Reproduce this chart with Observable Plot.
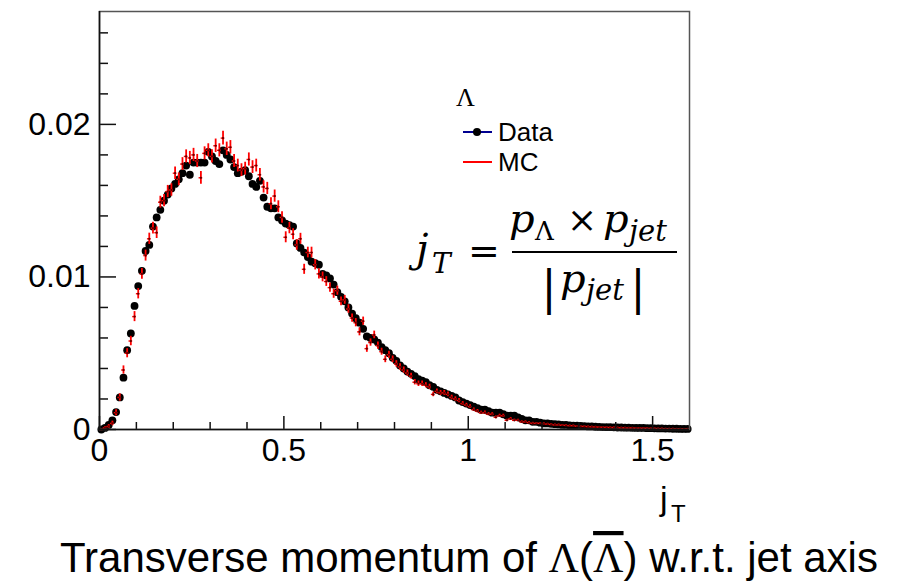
<!DOCTYPE html>
<html><head><meta charset="utf-8">
<script src="https://cdn.jsdelivr.net/npm/d3@7"></script>
<script src="https://cdn.jsdelivr.net/npm/@observablehq/plot@0.6"></script>
<style>body{margin:0;background:#fff;} svg{display:block}</style>
</head><body><div id="chart"></div>
<script>
// ---- data (histogram, bin width 0.01 in jT) ----
const binWidth = 0.01;
const dataValues = [
0.0000, 0.0001, 0.0003, 0.0006, 0.00114, 0.0021, 0.0034, 0.0052, 0.0063, 0.0081,
0.0094, 0.0104, 0.0117, 0.0121, 0.0133, 0.0139, 0.0144, 0.0150, 0.0154, 0.0158,
0.0161, 0.0164, 0.0168, 0.0173, 0.0167, 0.0175, 0.0175, 0.0175, 0.0175, 0.0182,
0.0179, 0.0176, 0.0174, 0.0183, 0.0180, 0.0177, 0.0172, 0.0168, 0.0169, 0.0170,
0.0166, 0.0161, 0.0159, 0.0163, 0.0152, 0.0146, 0.0145, 0.0145, 0.0139, 0.0137,
0.0135, 0.0134, 0.0133, 0.0122, 0.0119, 0.0116, 0.0113, 0.0110, 0.0109, 0.0108,
0.0102, 0.0101, 0.0099, 0.0095, 0.0090, 0.0087, 0.0084, 0.0080, 0.0076, 0.0073,
0.0070, 0.0066, 0.0061, 0.0060, 0.0059, 0.0057, 0.0054, 0.0052, 0.0050, 0.0047,
0.0045, 0.0042, 0.0040, 0.0038, 0.00365, 0.0035, 0.0033, 0.0032, 0.0031, 0.0029,
0.0028, 0.0026, 0.0025, 0.0024, 0.0023, 0.0022, 0.0021, 0.0019, 0.0018, 0.0017,
0.0016, 0.0015, 0.0014, 0.0013, 0.0013, 0.0012, 0.0011, 0.0011, 0.0011, 0.0010,
0.0009, 0.0009, 0.0009, 0.0008, 0.0007, 0.0006, 0.0006, 0.0005, 0.0005, 0.00045,
0.0004, 0.0004, 0.00037, 0.00035, 0.00033, 0.0003, 0.0003, 0.00027, 0.00025, 0.00025,
0.00023, 0.00022, 0.0002, 0.0002, 0.00018, 0.00017, 0.00016, 0.00015, 0.00015, 0.00014,
0.00013, 0.00013, 0.00012, 0.00012, 0.00011, 0.0001, 0.0001, 0.0001, 0.00009, 0.00009,
0.00008, 0.00007, 0.00007, 0.00006, 0.00006, 0.00005, 0.00005, 0.00004, 0.00004, 0.00004
];
const mcValues = [
0.0000, 0.0001, 0.0002, 0.0004, 0.0011, 0.0021, 0.0039, 0.0050, 0.0058, 0.0074,
0.0089, 0.0102, 0.0114, 0.0125, 0.0132, 0.0129, 0.0149, 0.0150, 0.0156, 0.0157,
0.0168, 0.0164, 0.0174, 0.0179, 0.0178, 0.0180, 0.0176, 0.0165, 0.0181, 0.0183,
0.0179, 0.0186, 0.0183, 0.0191, 0.0184, 0.0185, 0.0176, 0.0173, 0.0170, 0.0171,
0.0177, 0.0172, 0.0173, 0.0167, 0.0159, 0.0158, 0.0148, 0.0153, 0.0146, 0.0139,
0.0126, 0.0132, 0.0128, 0.0121, 0.0125, 0.0105, 0.0116, 0.0116, 0.0108, 0.0102,
0.0100, 0.0097, 0.0093, 0.0089, 0.0091, 0.0084, 0.0085, 0.0079, 0.0073, 0.0070,
0.0064, 0.0071, 0.0053, 0.0057, 0.0062, 0.0055, 0.0051, 0.0046, 0.0049, 0.0046,
0.0043, 0.0041, 0.0039, 0.0037, 0.0035, 0.0031, 0.0030, 0.0030, 0.0029, 0.0028,
0.0023, 0.0025, 0.0024, 0.0024, 0.0023, 0.0021, 0.0020, 0.0019, 0.0017, 0.0016,
0.0015, 0.0013, 0.0012, 0.0011, 0.0011, 0.0010, 0.0010, 0.0008, 0.0009, 0.0009,
0.0006, 0.0007, 0.0006, 0.0006, 0.0005, 0.0005, 0.00045, 0.0004, 0.0004, 0.0004,
0.00038, 0.00035, 0.00033, 0.0003, 0.0003, 0.00028, 0.00027, 0.00025, 0.00025, 0.00022,
0.0002, 0.0002, 0.00019, 0.00018, 0.00017, 0.00016, 0.00015, 0.00014, 0.00013, 0.00013,
0.00012, 0.00011, 0.00011, 0.0001, 0.0001, 0.00009, 0.00009, 0.00008, 0.00008, 0.00007,
0.00007, 0.00006, 0.00006, 0.00005, 0.00005, 0.00005, 0.00004, 0.00004, 0.00004, 0.00004
];
const mcErrors = [
0.00003, 0.00008, 0.00012, 0.00015, 0.0002, 0.00024, 0.00027, 0.0003, 0.00031, 0.00033,
0.00034, 0.00035, 0.00036, 0.00037, 0.00038, 0.00038, 0.00039, 0.0004, 0.0004, 0.00041,
0.00041, 0.00042, 0.00042, 0.00043, 0.00043, 0.00043, 0.00043, 0.00042, 0.00043, 0.00043,
0.00043, 0.00044, 0.00043, 0.00045, 0.00044, 0.00044, 0.00043, 0.00042, 0.00042, 0.00042,
0.00043, 0.00042, 0.00042, 0.00041, 0.0004, 0.0004, 0.00039, 0.0004, 0.00039, 0.00038,
0.00036, 0.00037, 0.00036, 0.00035, 0.00036, 0.00033, 0.00035, 0.00035, 0.00034, 0.00033,
0.00032, 0.00032, 0.00031, 0.0003, 0.0003, 0.00029, 0.00029, 0.00028, 0.00027, 0.00027,
0.00026, 0.00027, 0.00024, 0.00024, 0.00025, 0.00024, 0.00023, 0.00022, 0.00023, 0.00022,
0.00021, 0.00021, 0.0002, 0.0002, 0.00019, 0.00018, 0.00018, 0.00018, 0.00017, 0.00017,
0.00015, 0.00016, 0.00016, 0.00016, 0.00016, 0.00015, 0.00014, 0.00014, 0.00013, 0.00012,
0.00012, 0.00011, 0.00011, 0.0001, 0.00011, 0.0001, 0.0001, 0.00009, 0.0001, 0.0001,
0.00008, 0.00009, 0.00008, 0.00008, 0.00007, 0.00007, 0.00007, 0.00007, 0.00006, 0.00006,
0.00006, 0.00006, 0.00006, 0.00006, 0.00006, 0.00005, 0.00005, 0.00005, 0.00005, 0.00005,
0.00004, 0.00004, 0.00004, 0.00004, 0.00004, 0.00004, 0.00004, 0.00004, 0.00004, 0.00004,
0.00004, 0.00004, 0.00004, 0.00004, 0.00004, 0.00003, 0.00003, 0.00003, 0.00003, 0.00003,
0.00003, 0.00003, 0.00003, 0.00003, 0.00003, 0.00003, 0.00003, 0.00003, 0.00003, 0.00003
];
const seriesNames = ["Data", "MC"];
const legendHeader = "Λ";
const xTickValues = [0, 0.5, 1, 1.5];
const xTickLabels = ["0", "0.5", "1", "1.5"];
const xMinorTicks = [0.1, 0.2, 0.3, 0.4, 0.6, 0.7, 0.8, 0.9, 1.1, 1.2, 1.3, 1.4];
const yTickValues = [0, 0.01, 0.02];
const yTickLabels = ["0", "0.01", "0.02"];
const yMinorTicks = [0.002, 0.004, 0.006, 0.008, 0.012, 0.014, 0.016, 0.018, 0.022, 0.024, 0.026];
const xAxisLabel = ["j", "T"];
const titleParts = ["Transverse momentum of ", "Λ", "(", "Λ", ") w.r.t. jet axis"];

// ---- rows ----
const binCenters = dataValues.map((_, i) => +(binWidth * (i + 0.5)).toFixed(4));
const dataRows = dataValues.map((v, i) => ({x: binCenters[i], v}));
const mcRows = mcValues.map((v, i) => ({x: binCenters[i], v, e: mcErrors[i]}));

const W = 902, H = 581, ML = 99, MR = 213, MT = 11, MB = 152;
const plotW = W - ML - MR, plotH = H - MT - MB;
const sans = "'Liberation Sans', Arial, Helvetica, sans-serif";

const chart = Plot.plot({
  width: W, height: H,
  marginLeft: ML, marginRight: MR, marginTop: MT, marginBottom: MB,
  x: {domain: [0, 1.6]},
  y: {domain: [0, 0.0274]},
  style: {fontFamily: sans, background: "white", color: "black"},
  marks: [
    Plot.dot(dataRows, {x: "x", y: "v", r: 3.9, fill: "black"}),
    Plot.ruleX(mcRows, {x: "x", y1: d => d.v - d.e, y2: d => d.v + d.e, stroke: "#ff0000", strokeWidth: 1.8}),
    Plot.ruleY(mcRows, {y: "v", x1: d => d.x - binWidth / 2, x2: d => d.x + binWidth / 2, stroke: "#ff0000", strokeWidth: 1.4}),
    Plot.dot(mcRows, {x: "x", y: "v", r: 1.1, fill: "#600000"}),
    Plot.tickY(yTickValues, {y: d => d, insetRight: plotW - 17, stroke: "#111", strokeWidth: 1.5}),
    Plot.tickY(yMinorTicks, {y: d => d, insetRight: plotW - 9, stroke: "#111", strokeWidth: 1.5}),
    Plot.tickX(xTickValues, {x: d => d, insetTop: plotH - 13, stroke: "#111", strokeWidth: 1.5}),
    Plot.tickX(xMinorTicks, {x: d => d, insetTop: plotH - 7, stroke: "#111", strokeWidth: 1.5}),
    Plot.frame({stroke: "#555", strokeWidth: 1.5}),
    Plot.ruleX([0], {stroke: "#111", strokeWidth: 1.6}),
    Plot.ruleY([0], {stroke: "#111", strokeWidth: 1.6}),
    Plot.axisX({ticks: xTickValues, tickSize: 0, tickPadding: 9, fontSize: 32, label: null,
      tickFormat: d => xTickLabels[xTickValues.indexOf(d)]}),
    Plot.axisY({ticks: yTickValues, tickSize: 0, tickPadding: 9, fontSize: 32, label: null,
      tickFormat: d => yTickLabels[yTickValues.indexOf(d)]})
  ]
});
document.getElementById("chart").appendChild(chart);

// ---- annotations: legend, formula, axis label, title ----
const svg = d3.select(chart);
const g = svg.append("g").attr("text-anchor", "start").attr("fill", "black");
g.append("text").attr("x", 456).attr("y", 106)
  .attr("font-family", "'Liberation Serif', 'Times New Roman', serif").attr("font-size", 26).text(legendHeader);
g.append("line").attr("x1", 463).attr("x2", 492).attr("y1", 132).attr("y2", 132)
  .attr("stroke", "#000090").attr("stroke-width", 2);
g.append("circle").attr("cx", 477).attr("cy", 132).attr("r", 4).attr("fill", "black");
g.append("text").attr("x", 498).attr("y", 141).attr("font-family", sans).attr("font-size", 26).text(seriesNames[0]);
g.append("line").attr("x1", 463).attr("x2", 492).attr("y1", 162).attr("y2", 162)
  .attr("stroke", "#ff0000").attr("stroke-width", 2);
g.append("text").attr("x", 498).attr("y", 171).attr("font-family", sans).attr("font-size", 26).text(seriesNames[1]);

// formula
const mf = "'DejaVu Serif', 'Liberation Serif', serif";
function t(x, y, s, size, italic, anchor) {
  return g.append("text").attr("x", x).attr("y", y).attr("font-family", mf)
    .attr("font-size", size).attr("font-style", italic ? "italic" : "normal")
    .attr("text-anchor", anchor || "start").text(s);
}
t(416, 262, "j", 40, true);
t(432, 273, "T", 28, true);
t(468, 264, "=", 38, false);
g.append("line").attr("x1", 512).attr("x2", 677).attr("y1", 252).attr("y2", 252)
  .attr("stroke", "black").attr("stroke-width", 2);
t(509, 232, "p", 40, true);
t(535, 240, "Λ", 26, false);
t(567, 232, "×", 36, false);
t(603, 232, "p", 40, true);
t(629, 241, "jet", 29, true);
t(549, 304, "|", 46, false, "middle");
t(560, 292, "p", 40, true);
t(586, 300, "jet", 29, true);
t(638, 304, "|", 46, false, "middle");

// x axis label jT
g.append("text").attr("x", 660).attr("y", 510).attr("font-family", sans).attr("font-size", 34).text(xAxisLabel[0]);
g.append("text").attr("x", 671).attr("y", 522).attr("font-family", sans).attr("font-size", 24).text(xAxisLabel[1]);

// title
const title = g.append("text").attr("x", 60).attr("y", 572).attr("font-family", sans).attr("font-size", 42);
title.append("tspan").text(titleParts[0]);
title.append("tspan").attr("font-family", "'Liberation Serif', serif").text(titleParts[1]);
title.append("tspan").text(titleParts[2]);
title.append("tspan").attr("font-family", "'Liberation Serif', serif").style("text-decoration", "overline").text(titleParts[3]);
title.append("tspan").text(titleParts[4]);
</script>
</body></html>
